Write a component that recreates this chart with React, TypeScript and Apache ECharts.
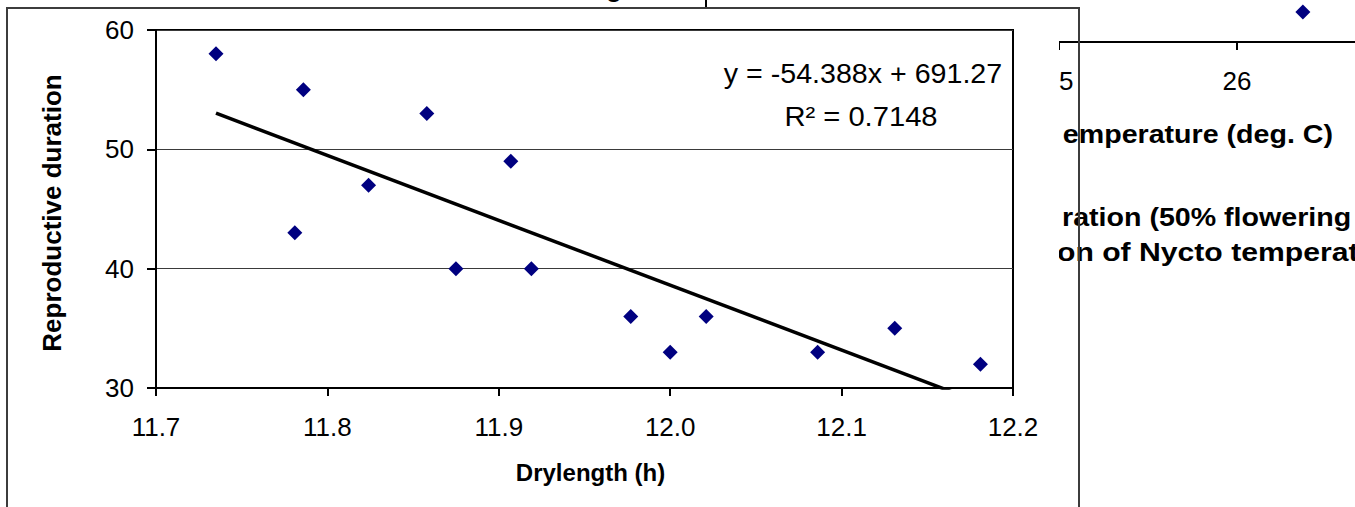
import React, { useEffect, useRef } from "react";
import * as echarts from "echarts";

// ---- Data ----
const drylength = [11.735, 11.786, 11.781, 11.824, 11.858, 11.875, 11.907, 11.919, 11.977, 12.0, 12.021, 12.086, 12.131, 12.181];
const duration = [58, 55, 43, 47, 53, 40, 49, 40, 36, 33, 36, 33, 35, 32];

const trendSlope = -54.388;
const trendIntercept = 691.27;
const equationLine = "y = -54.388x + 691.27";
const r2Line = "R² = 0.7148";

const xTitle = "Drylength (h)";
const yTitle = "Reproductive duration";

// fragment of the chart lying behind (partly hidden)
const bgTemperature = [26.37];
const bgValue = [30];
const bgAxisTitle = "emperature (deg. C)";
const bgTitleLine1 = "ration (50% flowering to maturity)";
const bgTitleLine2 = "on of Nycto temperature";

const FONT = "'Liberation Sans', Arial, Helvetica, sans-serif";

export default function App() {
  const ref = useRef<HTMLDivElement>(null);

  useEffect(() => {
    if (!ref.current) return;
    const chart = echarts.init(ref.current, undefined, { renderer: "svg" });

    const xMin = Math.min(...drylength);
    const xMax = Math.max(...drylength);
    const trend = [
      [xMin, trendSlope * xMin + trendIntercept],
      [xMax, trendSlope * xMax + trendIntercept],
    ];

    const option: any = {
      animation: false,
      backgroundColor: "#ffffff",
      textStyle: { fontFamily: FONT },
      grid: [
        { left: 156, top: 30, width: 857, height: 358, show: true, borderColor: "#000", borderWidth: 2, backgroundColor: "transparent", outerBoundsMode: "none", containLabel: false },
        { left: 1059, top: -58, width: 356, height: 100, show: false, outerBoundsMode: "none", containLabel: false },
      ],
      xAxis: [
        {
          gridIndex: 0,
          type: "value",
          min: 11.7,
          max: 12.2,
          interval: 0.1,
          axisLine: { show: true, onZero: false, lineStyle: { color: "#000", width: 2 } },
          axisTick: { show: true, length: 8, lineStyle: { color: "#000", width: 2 } },
          axisLabel: { fontSize: 26, color: "#000", margin: 26, fontFamily: FONT, formatter: (v: number) => v.toFixed(1) },
          splitLine: { show: false },
          name: xTitle,
          nameLocation: "middle",
          nameGap: 72,
          nameTextStyle: { fontSize: 24, fontWeight: "bold", color: "#000", fontFamily: FONT, padding: [0, 0, 0, 12] },
        },
        {
          gridIndex: 1,
          type: "value",
          min: 25,
          max: 27,
          interval: 1,
          z: -20,
          axisLine: { show: true, onZero: false, lineStyle: { color: "#000", width: 2 } },
          axisTick: { show: true, length: 8, lineStyle: { color: "#000", width: 2 } },
          axisLabel: { fontSize: 26, color: "#000", margin: 26, fontFamily: FONT },
          splitLine: { show: false },
        },
      ],
      yAxis: [
        {
          gridIndex: 0,
          type: "value",
          min: 30,
          max: 60,
          interval: 10,
          axisLine: { show: true, onZero: false, lineStyle: { color: "#000", width: 2 } },
          axisTick: { show: true, length: 9, lineStyle: { color: "#000", width: 2 } },
          axisLabel: { fontSize: 26, color: "#000", margin: 22, fontFamily: FONT },
          splitLine: { show: true, lineStyle: { color: "#3a3a3a", width: 1 } },
          name: yTitle,
          nameLocation: "middle",
          nameRotate: 90,
          nameGap: 91,
          nameTextStyle: { fontSize: 26, fontWeight: "bold", color: "#000", fontFamily: FONT, padding: [0, 8, 0, 0] },
        },
        { gridIndex: 1, type: "value", min: 0, max: 100, show: false },
      ],
      series: [
        {
          type: "line",
          xAxisIndex: 0,
          yAxisIndex: 0,
          data: trend,
          symbol: "none",
          clip: true,
          lineStyle: { color: "#000", width: 3.5 },
          z: 2,
        },
        {
          type: "scatter",
          xAxisIndex: 0,
          yAxisIndex: 0,
          data: drylength.map((x, i) => [x, duration[i]]),
          symbol: "diamond",
          symbolSize: 15,
          itemStyle: { color: "#000080", opacity: 1 },
          z: 3,
        },
        {
          type: "scatter",
          xAxisIndex: 1,
          yAxisIndex: 1,
          data: bgTemperature.map((x, i) => [x, bgValue[i]]),
          symbol: "diamond",
          symbolSize: 15,
          itemStyle: { color: "#000080", opacity: 1 },
          z: -20,
        },
      ],
      graphic: [
        // background chart fragments
        { type: "text", z: -20, x: 1062, y: 217, scaleX: 1.1, style: { text: bgTitleLine1, fontSize: 26, fontWeight: "bold", fontFamily: FONT, fill: "#000", align: "left", verticalAlign: "middle" } },
        { type: "text", z: -20, x: 1057, y: 252, scaleX: 1.16, style: { text: bgTitleLine2, fontSize: 26, fontWeight: "bold", fontFamily: FONT, fill: "#000", align: "left", verticalAlign: "middle" } },
        { type: "text", z: -20, x: 1333, y: 134, scaleX: 1.1, style: { text: bgAxisTitle, fontSize: 26, fontWeight: "bold", fontFamily: FONT, fill: "#000", align: "right", verticalAlign: "middle" } },
        { type: "text", z: -20, x: 614, y: -12, style: { text: "g", fontSize: 26, fontWeight: "bold", fontFamily: FONT, fill: "#000", align: "center", verticalAlign: "middle" } },
        { type: "line", z: -20, shape: { x1: 706, y1: 0, x2: 706, y2: 7 }, style: { stroke: "#000", lineWidth: 2 } },
        // white chart area hiding the background chart
        { type: "rect", z: -10, shape: { x: 0, y: 7, width: 1059, height: 500 }, style: { fill: "#fff" } },
        // chart frame
        { type: "polyline", z: 100, shape: { points: [[7, 507], [7, 8], [1079, 8], [1079, 507]] }, style: { stroke: "#3c3c3c", lineWidth: 2, fill: null } },
        // trendline equation
        { type: "text", z: 50, x: 863, y: 74, scaleX: 1.06, style: { text: equationLine, fontSize: 27, fontFamily: FONT, fill: "#000", align: "center", verticalAlign: "middle" } },
        { type: "text", z: 50, x: 861, y: 117, scaleX: 1.08, style: { text: r2Line, fontSize: 27, fontFamily: FONT, fill: "#000", align: "center", verticalAlign: "middle" } },
      ],
    };

    chart.setOption(option);
    return () => chart.dispose();
  }, []);

  return <div ref={ref} style={{ position: "fixed", left: 0, top: 0, width: 1355, height: 507, background: "#fff" }} />;
}
